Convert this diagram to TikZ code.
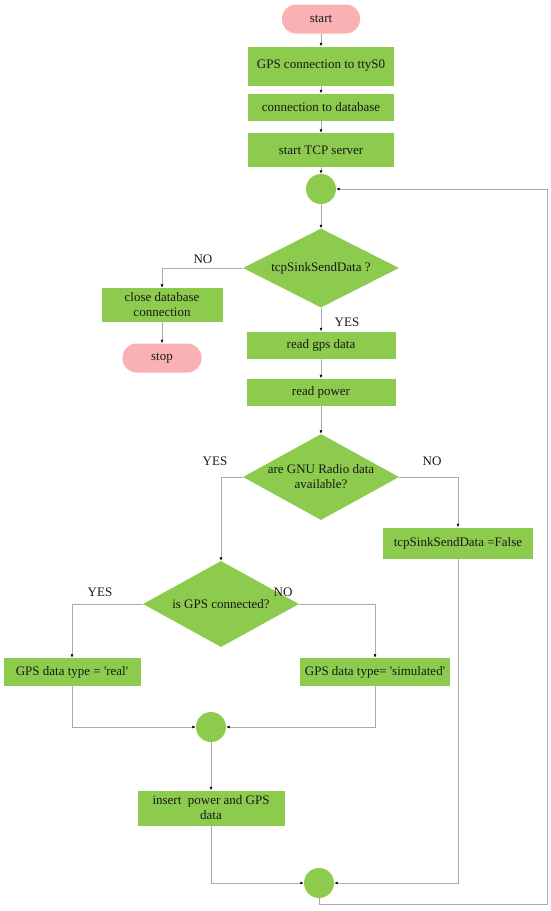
\documentclass[tikz,border=0pt]{standalone}
\usepackage{fontspec}
\setmainfont{Liberation Serif}
\usetikzlibrary{shapes.geometric,arrows.meta}
\definecolor{boxgreen}{HTML}{8CCB4E}
\definecolor{pillpink}{HTML}{F9B1B4}
\definecolor{linegray}{HTML}{ABABAB}
\tikzset{
  every node/.style={font=\fontsize{13}{15}\selectfont, inner sep=0pt, text=black!90},
  procbox/.style={rectangle, fill=boxgreen, align=center},
  pill/.style={rectangle, rounded corners=14pt, fill=pillpink},
  junction/.style={circle, fill=boxgreen, minimum size=30pt},
  decision/.style={diamond, fill=boxgreen, shape aspect=2, align=center},
  lbl/.style={font=\fontsize{13}{15}\selectfont},
  arr/.style={draw=linegray, line width=0.8pt, -{Latex[length=3.5pt,width=3pt,color=black]}},
}
\begin{document}
\begin{tikzpicture}[x=1pt,y=-1pt]
\useasboundingbox (0,0) rectangle (550,911);
\node[pill, minimum width=78pt, minimum height=29pt] (start) at (321,19) {start};
\node[procbox, minimum width=146pt, minimum height=39pt] (gps) at (321,66) {GPS connection to ttyS0};
\node[procbox, minimum width=146pt, minimum height=27pt] (db) at (321,107) {connection to database};
\node[procbox, minimum width=146pt, minimum height=34pt] (tcp) at (321,150) {start TCP server};
\node[junction] (c1) at (321,189) {};
\node[decision, minimum width=156pt, minimum height=79pt] (d1) at (321,268) {tcpSinkSendData ?};
\node[procbox, minimum width=121pt, minimum height=34pt] (close) at (162,305) {close database\\connection};
\node[pill, minimum width=79pt, minimum height=29pt] (stop) at (162,358) {stop};
\node[procbox, minimum width=149pt, minimum height=27pt] (readgps) at (321,345) {read gps data};
\node[procbox, minimum width=149pt, minimum height=27pt] (power) at (321,392) {read power};
\node[decision, minimum width=156pt, minimum height=86pt] (d2) at (321,477) {are GNU Radio data\\available?};
\node[procbox, minimum width=150pt, minimum height=31pt] (false) at (458,543) {tcpSinkSendData =False};
\node[decision, minimum width=156pt, minimum height=86pt] (d3) at (221,604) {is GPS connected?};
\node[procbox, minimum width=137pt, minimum height=28pt] (real) at (72,672) {GPS data type = \textquotesingle real\textquotesingle};
\node[procbox, minimum width=150pt, minimum height=28pt] (sim) at (375,672) {GPS data type= \textquotesingle simulated\textquotesingle};
\node[junction] (c3) at (211,727) {};
\node[procbox, minimum width=147pt, minimum height=35pt] (insert) at (211,808) {insert\ \ power and GPS\\data};
\node[junction] (c4) at (319,883) {};
\coordinate (loopR) at (547,904);
\node[lbl] (lno1) at (203,259) {NO};
\node[lbl] (lyes1) at (347,322) {YES};
\node[lbl] (lyes2) at (215,461) {YES};
\node[lbl] (lno2) at (432,461) {NO};
\node[lbl] (lyes3) at (100,592) {YES};
\node[lbl] (lno3) at (283,592) {NO};
\draw[arr] (start) -- (gps);
\draw[arr] (gps) -- (db);
\draw[arr] (db) -- (tcp);
\draw[arr] (tcp) -- (c1);
\draw[arr] (c1) -- (d1);
\draw[arr] (d1.west) -| (close.north);
\draw[arr] (close) -- (stop);
\draw[arr] (d1.south) -- (readgps.north);
\draw[arr] (readgps) -- (power);
\draw[arr] (power.south) -- (d2.north);
\draw[arr] (d2.west) -| (d3.north);
\draw[arr] (d2.east) -| (false.north);
\draw[arr] (d3.west) -| (real.north);
\draw[arr] (d3.east) -| (sim.north);
\draw[arr] (real.south) |- (c3.west);
\draw[arr] (sim.south) |- (c3.east);
\draw[arr] (c3) -- (insert);
\draw[arr] (insert.south) |- (c4.west);
\draw[arr] (false.south) |- (c4.east);
\draw[arr] (c4.south) |- (loopR) |- (c1.east);
\end{tikzpicture}
\end{document}
